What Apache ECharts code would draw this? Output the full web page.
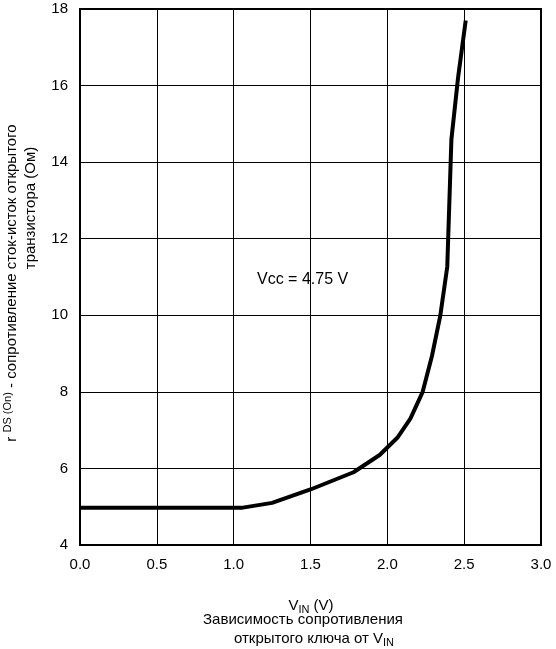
<!DOCTYPE html><html><head><meta charset="utf-8"><script src="https://cdn.jsdelivr.net/npm/echarts@6/dist/echarts.min.js"></script>
<style>html,body{margin:0;padding:0;background:#fff}#c{width:556px;height:649px}</style></head><body><div id="c"></div><script>
const vin=[0,0.5,1.05,1.25,1.5,1.78,1.95,2.065,2.15,2.23,2.29,2.345,2.39,2.417,2.46,2.51];
const rds=[4.97,4.97,4.97,5.1,5.45,5.9,6.35,6.8,7.3,8.0,8.93,10.0,11.27,14.6,16.2,17.7];
const F='"Liberation Sans", Arial, sans-serif';
const ch=echarts.init(document.getElementById('c'));
ch.setOption({animation:false,
grid:{left:80,right:15,top:9,bottom:104},
xAxis:{type:'value',min:0,max:3,interval:0.5,axisLine:{lineStyle:{color:'#000',width:2}},axisTick:{show:false},
 splitLine:{lineStyle:{color:'#000',width:1}},axisLabel:{color:'#000',fontFamily:F,fontSize:15,margin:12,formatter:v=>v.toFixed(1)}},
yAxis:{type:'value',min:4,max:18,interval:2,axisLine:{show:true,lineStyle:{color:'#000',width:2}},axisTick:{show:false},
 splitLine:{lineStyle:{color:'#000',width:1}},axisLabel:{color:'#000',fontFamily:F,fontSize:15,margin:12}},
graphic:[
 {type:'rect',shape:{x:80,y:9,width:461,height:536},style:{fill:'none',stroke:'#000',lineWidth:2}},
 {type:'text',left:257,top:272,style:{text:'Vcc = 4.75 V',font:'16px '+F,fill:'#000'}},
 {type:'text',x:311,y:596,style:{text:'{n|V}{s|IN}{n| (V)}',align:'center',rich:{n:{fontFamily:F,fontSize:15,fill:'#000'},s:{fontFamily:F,fontSize:11,fill:'#000',padding:[8,0,0,0]}}}},
 {type:'text',x:303,y:612,style:{text:'Зависимость сопротивления',align:'center',font:'15px '+F,fill:'#000'}},
 {type:'text',x:314,y:629,style:{text:'{n|открытого ключа от V}{s|IN}',align:'center',rich:{n:{fontFamily:F,fontSize:15,fill:'#000'},s:{fontFamily:F,fontSize:11,fill:'#000',padding:[8,0,0,0]}}}},
 {type:'text',x:12,y:283,rotation:Math.PI/2,style:{text:'{n|r }{s|DS (On)}{n| - сопротивление сток-исток открытого}',align:'center',verticalAlign:'middle',rich:{n:{fontFamily:F,fontSize:15,fill:'#000'},s:{fontFamily:F,fontSize:11,fill:'#000',padding:[0,0,8,0]}}}},
 {type:'text',x:31,y:208,rotation:Math.PI/2,style:{text:'транзистора (Ом)',align:'center',verticalAlign:'middle',font:'15px '+F,fill:'#000'}}
],
series:[{type:'line',data:vin.map((v,i)=>[v,rds[i]]),symbol:'none',lineStyle:{color:'#000',width:4}}]});
</script></body></html>
